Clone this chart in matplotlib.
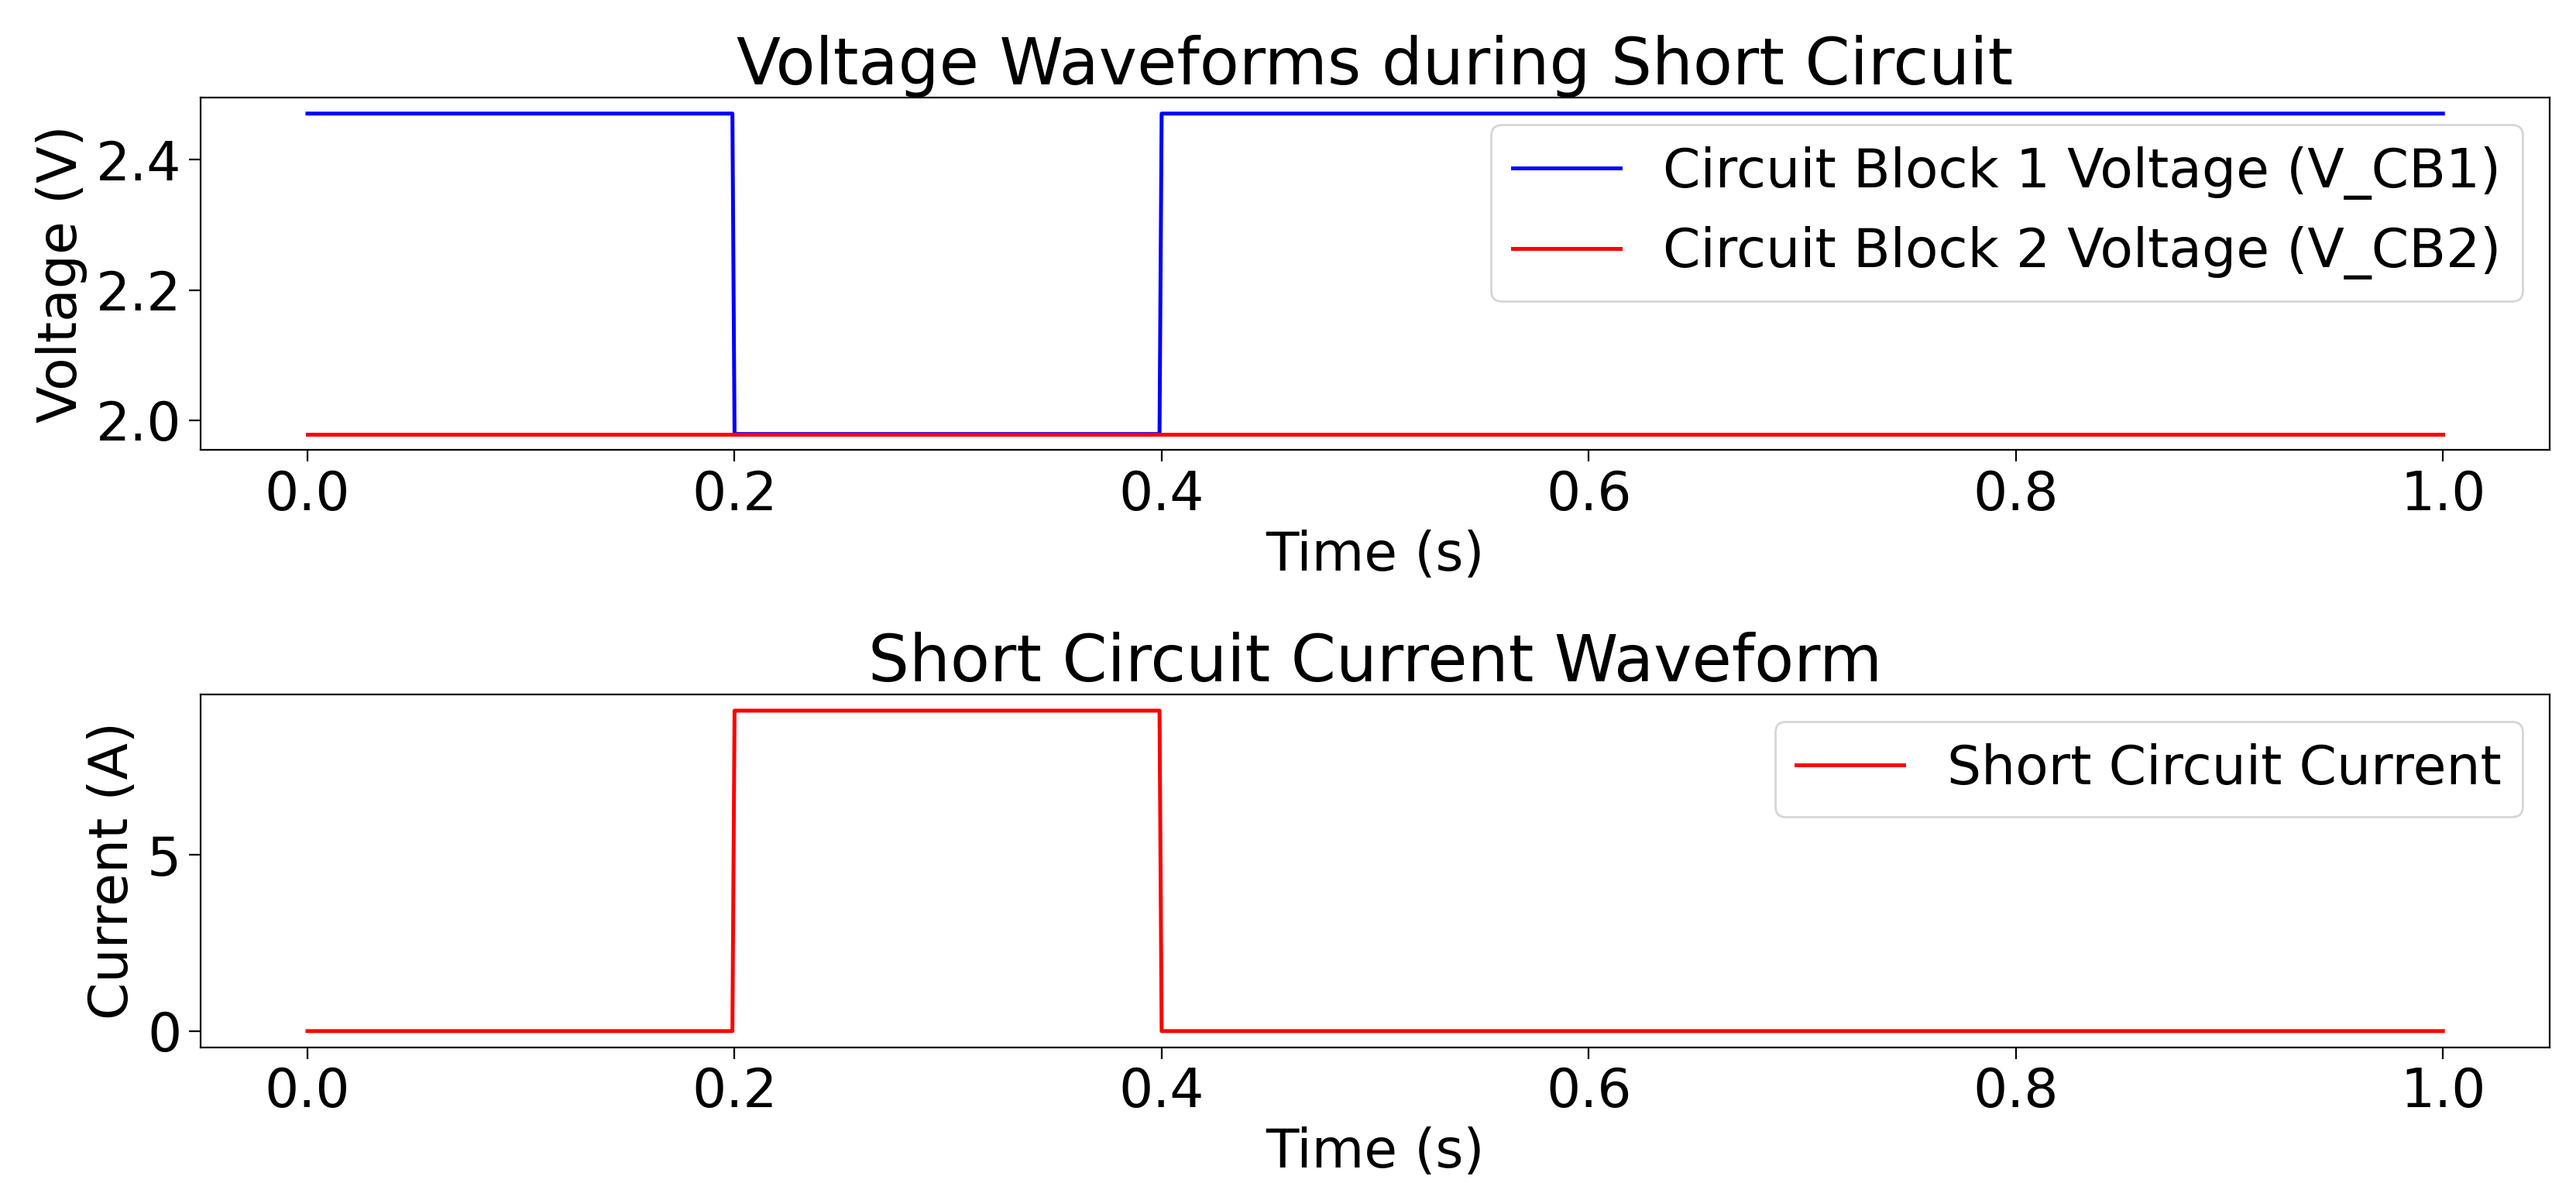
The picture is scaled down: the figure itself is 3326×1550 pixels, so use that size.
import matplotlib
matplotlib.use("Agg")
import matplotlib.pyplot as plt

# Data (breakpoints of the step waveforms)
time = [0.0, 0.199, 0.200, 0.399, 0.400, 1.0]
v_cb1 = [2.471, 2.471, 1.979, 1.979, 2.471, 2.471]
v_cb2 = [1.979, 1.979, 1.979, 1.979, 1.979, 1.979]
current = [0.0, 0.0, 9.1, 9.1, 0.0, 0.0]

plt.rcParams['font.family'] = ['DejaVu Sans']
plt.rcParams['font.size'] = 25
plt.rcParams['xtick.major.size'] = 5.4
plt.rcParams['ytick.major.size'] = 5.4

fig, (ax1, ax2) = plt.subplots(2, 1, figsize=(16.63, 7.75), dpi=200)
fig.subplots_adjust(left=0.0779, right=0.9898, top=0.9187, bottom=0.1274, hspace=0.694)

ax1.plot(time, v_cb1, color='blue', lw=1.8, label='Circuit Block 1 Voltage (V_CB1)')
ax1.plot(time, v_cb2, color='red', lw=1.8, label='Circuit Block 2 Voltage (V_CB2)')
ax1.set_title('Voltage Waveforms during Short Circuit', fontsize=30)
ax1.set_xlabel('Time (s)')
ax1.set_ylabel('Voltage (V)')
ax1.legend(loc='upper right')

ax2.plot(time, current, color='red', lw=1.8, label='Short Circuit Current')
ax2.set_title('Short Circuit Current Waveform', fontsize=30)
ax2.set_xlabel('Time (s)')
ax2.set_ylabel('Current (A)')
ax2.legend(loc='upper right')

fig.savefig('out.png', dpi=200)
